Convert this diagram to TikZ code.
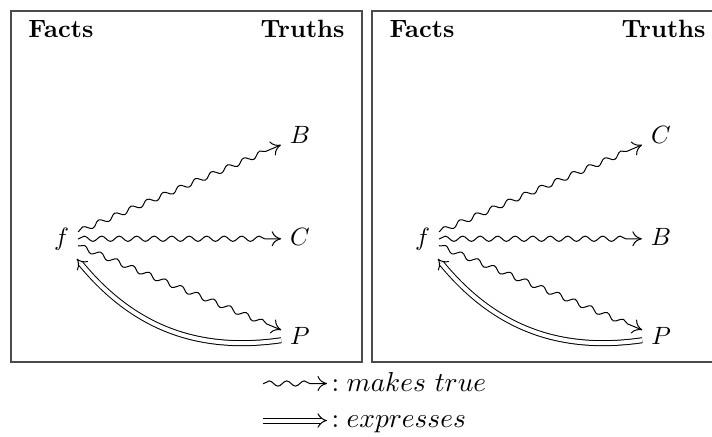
\documentclass[tikz,border=0pt]{standalone}
\usetikzlibrary{arrows.meta,decorations.pathmorphing,bending}
\begin{document}
\begin{tikzpicture}[x=0.4pt,y=-0.4pt,
  frame/.style={draw=black!70,line width=0.55pt},
  obj/.style={inner sep=3.4pt,text height=6.9pt,text depth=1.9pt,anchor=base},
  head/.style={inner sep=0pt,font=\bfseries},
  sq/.style={line width=0.4pt,decorate,
    decoration={snake,amplitude=1.05pt,segment length=7pt,post length=3.6pt,pre length=0.3pt},
    -{Computer Modern Rightarrow[length=3.8pt,width=6pt]}},
  dbl/.style={double,double distance=1.6pt,line width=0.4pt,-{Implies}},
  expr/.style={dbl,bend left=30},
  leg/.style={inner sep=0pt,anchor=base west,font=\fontsize{11}{13}\selectfont}]
\useasboundingbox (0,0) rectangle (712,436);
% left panel
\draw[frame] (11,11) rectangle (362,362);
\node[head,anchor=base west] (facts1) at (28,37) {Facts};
\node[head,anchor=base east] (truths1) at (345,37) {Truths};
\node[obj] (f1) at (61.5,245) {$f$};
\node[obj] (B1) at (300,143) {$B$};
\node[obj] (C1) at (300,245) {$C$};
\node[obj] (P1) at (300,344) {$P$};
\draw[sq] (f1) -- (B1);
\draw[sq] (f1) -- (C1);
\draw[sq] (f1) -- (P1);
\draw[expr] (P1) to (f1);
% right panel
\draw[frame] (372,11) rectangle (723,362);
\node[head,anchor=base west] (facts2) at (389,37) {Facts};
\node[head,anchor=base east] (truths2) at (706,37) {Truths};
\node[obj] (f2) at (422.5,245) {$f$};
\node[obj] (C2) at (661,143) {$C$};
\node[obj] (B2) at (661,245) {$B$};
\node[obj] (P2) at (661,344) {$P$};
\draw[sq] (f2) -- (C2);
\draw[sq] (f2) -- (B2);
\draw[sq] (f2) -- (P2);
\draw[expr] (P2) to (f2);
% legend
\coordinate (l1a) at (263,383.5);
\coordinate (l1b) at (327,383.5);
\draw[sq] (l1a) -- (l1b);
\node[leg] (t1) at (331,391) {${:}\;makes\ true$};
\coordinate (l2a) at (263,420.5);
\coordinate (l2b) at (327,420.5);
\draw[dbl] (l2a) -- (l2b);
\node[leg] (t2) at (331,427) {${:}\;expresses$};
\end{tikzpicture}
\end{document}
